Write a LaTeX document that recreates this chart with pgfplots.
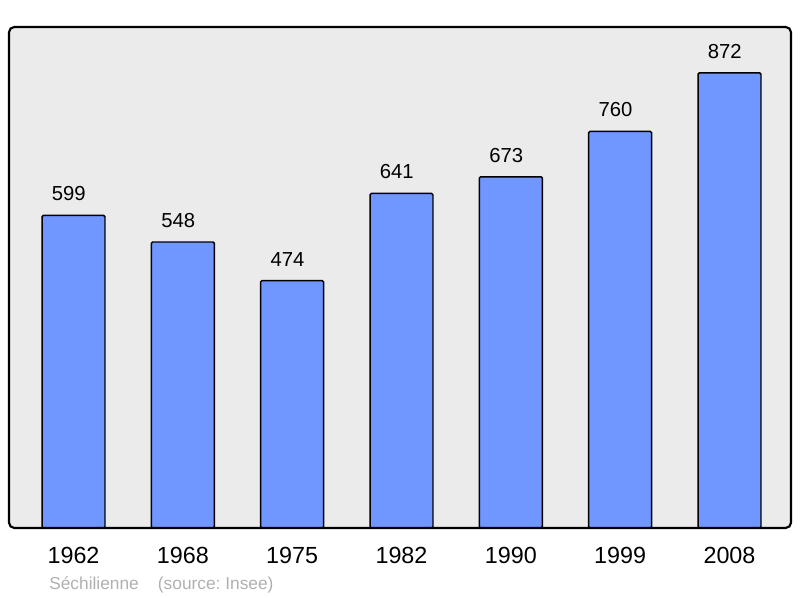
\documentclass[border=0pt]{standalone}
\usepackage{fontspec}
\setmainfont{Liberation Sans}
\usepackage{pgfplots}
\pgfplotsset{compat=1.18}
\definecolor{barblue}{RGB}{112,150,255}
\definecolor{bggray}{RGB}{235,235,235}
\definecolor{srcgray}{RGB}{176,176,176}
\frenchspacing
\begin{document}
\begin{tikzpicture}
\useasboundingbox (0,0) rectangle (600pt,448.5pt);
\begin{axis}[
  at={(6.75pt,52.5pt)}, anchor=south west,
  scale only axis,
  width=586.5pt, height=375.75pt,
  xmin=-0.59, xmax=6.5625,
  ymin=0, ymax=960,
  axis line style={draw=none},
  axis background/.style={fill=bggray, rounded corners=4pt},
  ytick=\empty,
  xtick={0,...,6},
  xticklabels={1962,1968,1975,1982,1990,1999,2008},
  major tick length=0pt,
  xticklabel style={font=\fontsize{17.5pt}{20pt}\selectfont, yshift=-11pt},
  ybar, bar width=0.576,
  nodes near coords,
  every node near coord/.append style={font=\fontsize{15.2pt}{18pt}\selectfont, yshift=7pt, xshift=-3.5pt},
  /pgf/number format/assume math mode=true,
  clip=false,
]
\addplot[fill=barblue, draw=black, line width=1.1pt, rounded corners=1pt] coordinates {
  (0,599) (1,548) (2,474) (3,641) (4,673) (5,760) (6,872)
};
\draw[line width=1.6pt, rounded corners=4pt] (rel axis cs:0,0) rectangle (rel axis cs:1,1);
\end{axis}
\node[anchor=west, text=srcgray, font=\fontsize{13pt}{15pt}\selectfont, inner sep=0pt] at (36.75pt,10pt) {Séchilienne\hspace{1.1em}(source: Insee)};
\end{tikzpicture}
\end{document}
